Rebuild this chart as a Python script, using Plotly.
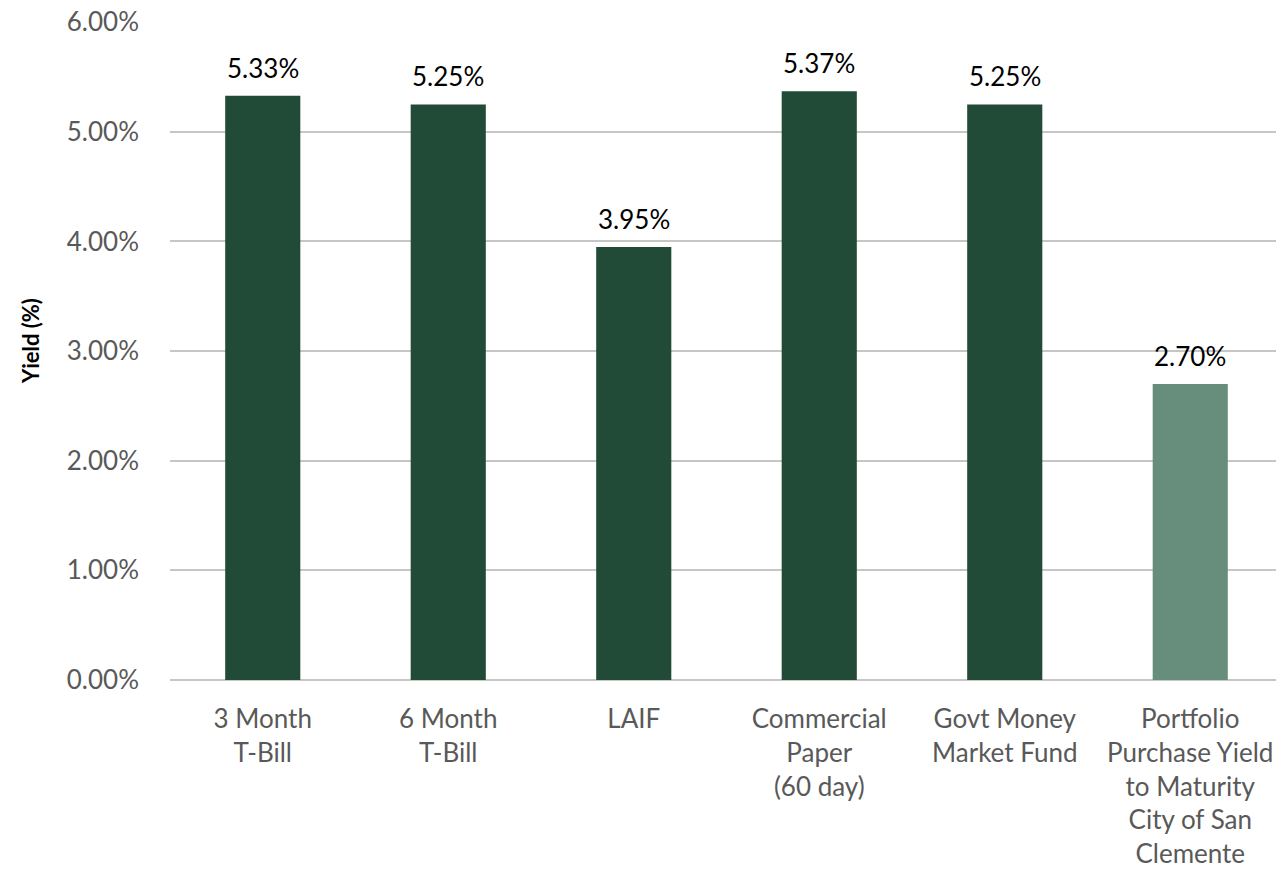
import plotly.graph_objects as go

categories = ["3 Month<br>T-Bill", "6 Month<br>T-Bill", "LAIF", "Commercial<br>Paper<br>(60 day)",
              "Govt Money<br>Market Fund", "Portfolio<br>Purchase Yield<br>to Maturity<br>City of San<br>Clemente"]
values = [5.33, 5.25, 3.95, 5.37, 5.25, 2.70]
bar_colors = ["#214B37", "#214B37", "#214B37", "#214B37", "#214B37", "#678E7C"]
y_ticks = [0, 1, 2, 3, 4, 5, 6]
y_ticklabels = ["0.00%", "1.00%", "2.00%", "3.00%", "4.00%", "5.00%", "6.00%"]

FONT = "Lato, 'Open Sans', sans-serif"

fig = go.Figure(go.Bar(
    x=categories, y=values, marker=dict(color=bar_colors, line=dict(width=0)),
    width=0.405,
))

for c, v in zip(categories, values):
    fig.add_annotation(x=c, y=v, text=f"{v:.2f}%", showarrow=False, yanchor="bottom",
                       yshift=10, font=dict(family=FONT, size=26, color="#000000"))

fig.add_annotation(xref="paper", yref="paper", x=-0.1258, y=0.515, text="<b>Yield (%)</b>",
                   textangle=-90, showarrow=False, xanchor="center", yanchor="middle",
                   font=dict(family=FONT, size=22, color="#000000"))

fig.update_layout(
    width=1276, height=867,
    margin=dict(l=162, r=1, t=14, b=195),
    plot_bgcolor="white", paper_bgcolor="white",
    showlegend=False,
    font=dict(family=FONT, size=26, color="#595959"),
    xaxis=dict(tickfont=dict(family=FONT, size=26, color="#595959"), showgrid=False,
               showline=False, ticks="", ticklabelstandoff=21, automargin=False),
    yaxis=dict(range=[0, 6.002], tickvals=y_ticks, ticktext=y_ticklabels, automargin=False,
               showgrid=True, gridcolor="#C6C6C6", gridwidth=2, zeroline=True,
               zerolinecolor="#C6C6C6", zerolinewidth=2, showline=False,
               tickfont=dict(family=FONT, size=26, color="#595959"),
               ticklabelstandoff=30, ticklabeloverflow="allow"),
)

fig.write_html("out.html")
